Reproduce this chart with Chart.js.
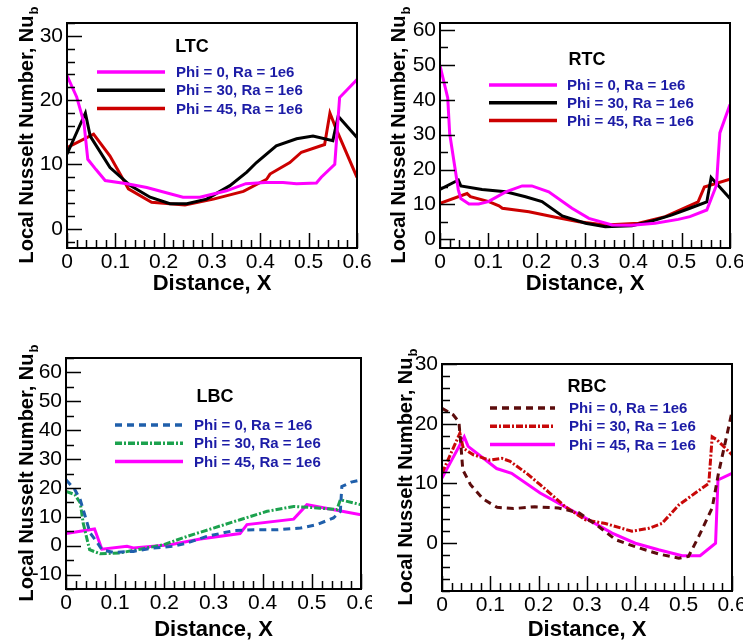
<!DOCTYPE html>
<html>
<head>
<meta charset="utf-8">
<script src="https://cdn.jsdelivr.net/npm/chart.js@4.4.1/dist/chart.umd.min.js"></script>
<style>
  body { margin: 0; background: #fff; }
  .panel { position: absolute; }
</style>
</head>
<body>
<div class="panel" style="left:0;top:0"><canvas id="ltc" width="372" height="320"></canvas></div>
<div class="panel" style="left:372px;top:0"><canvas id="rtc" width="371" height="320"></canvas></div>
<div class="panel" style="left:0;top:320px"><canvas id="lbc" width="372" height="320"></canvas></div>
<div class="panel" style="left:372px;top:320px"><canvas id="rbc" width="371" height="320"></canvas></div>
<script>
// tick labels
const xTickVals = [0, 0.1, 0.2, 0.3, 0.4, 0.5, 0.6];
const ltcYTicks = [0, 10, 20, 30];
const rtcYTicks = [0, 10, 20, 30, 40, 50, 60];
const lbcYTicks = [-10, 0, 10, 20, 30, 40, 50, 60];
const rbcYTicks = [0, 10, 20, 30];

const seriesNames = ['Phi = 0, Ra = 1e6', 'Phi = 30, Ra = 1e6', 'Phi = 45, Ra = 1e6'];

// LTC
const ltcX0 = [0, 0.02, 0.035, 0.043, 0.06, 0.079, 0.124, 0.165, 0.24, 0.275, 0.33, 0.37, 0.41, 0.447, 0.475, 0.516, 0.526, 0.554, 0.564, 0.6];
const ltcY0 = [23.8, 20.5, 16.5, 10.8, 9.2, 7.5, 7.0, 6.4, 4.9, 4.9, 5.9, 7.0, 7.2, 7.2, 7.0, 7.1, 8.0, 10.0, 20.4, 23.2];
const ltcX30 = [0, 0.038, 0.048, 0.089, 0.131, 0.172, 0.213, 0.248, 0.289, 0.337, 0.372, 0.392, 0.433, 0.475, 0.509, 0.55, 0.561, 0.6];
const ltcY30 = [11.6, 18.0, 14.4, 9.5, 6.7, 4.9, 3.9, 3.9, 4.6, 6.7, 8.8, 10.3, 12.9, 14.0, 14.4, 13.7, 17.5, 14.2];
const ltcX45 = [0, 0.055, 0.089, 0.127, 0.175, 0.244, 0.303, 0.365, 0.413, 0.42, 0.461, 0.485, 0.533, 0.544, 0.557, 0.6];
const ltcY45 = [12.6, 14.7, 11.3, 6.2, 4.1, 3.7, 4.6, 5.8, 7.7, 8.5, 10.3, 11.9, 13.1, 18.0, 15.5, 8.0];

// RTC
const rtcX0 = [0, 0.016, 0.02, 0.038, 0.043, 0.06, 0.08, 0.1, 0.136, 0.17, 0.19, 0.225, 0.273, 0.308, 0.356, 0.397, 0.445, 0.493, 0.517, 0.552, 0.572, 0.579, 0.6];
const rtcY0 = [49.8, 40.5, 30.3, 14.1, 11.7, 10.1, 10.1, 10.8, 13.6, 15.3, 15.3, 13.6, 8.9, 6.0, 4.1, 4.0, 4.6, 5.7, 6.5, 8.4, 15.5, 30.5, 38.6];
const rtcX30 = [0, 0.038, 0.043, 0.087, 0.136, 0.177, 0.211, 0.253, 0.301, 0.342, 0.397, 0.445, 0.48, 0.517, 0.552, 0.561, 0.6];
const rtcY30 = [14.3, 17.0, 15.3, 14.3, 13.6, 12.2, 10.8, 6.7, 4.6, 3.6, 3.9, 5.5, 7.0, 8.9, 10.7, 17.7, 11.7];
const rtcX45 = [0, 0.056, 0.063, 0.101, 0.122, 0.129, 0.184, 0.239, 0.287, 0.342, 0.411, 0.466, 0.534, 0.547, 0.6];
const rtcY45 = [10.3, 13.1, 12.2, 10.8, 9.6, 8.9, 7.9, 6.3, 5.0, 4.1, 4.6, 6.5, 10.7, 15.0, 17.2];

// LBC
const lbcX0 = [0, 0.018, 0.029, 0.039, 0.049, 0.062, 0.073, 0.096, 0.137, 0.178, 0.219, 0.246, 0.286, 0.341, 0.382, 0.429, 0.477, 0.51, 0.544, 0.558, 0.561, 0.58, 0.6];
const lbcY0 = [22.8, 19.4, 15.9, 10.2, 4.4, 1.5, -1.4, -2.3, -2.0, -0.8, -0.2, 0.9, 3.2, 5.2, 5.5, 5.5, 6.1, 7.3, 9.6, 11.9, 20.5, 22.0, 22.8];
const lbcX30 = [0, 0.018, 0.029, 0.035, 0.048, 0.069, 0.11, 0.151, 0.198, 0.246, 0.3, 0.354, 0.409, 0.463, 0.517, 0.551, 0.558, 0.6];
const lbcY30 = [18.8, 17.7, 14.8, 7.8, -1.4, -2.8, -2.5, -1.2, 0.3, 3.2, 6.1, 9.0, 11.9, 13.6, 13.0, 12.5, 15.9, 14.2];
const lbcX45 = [0, 0.058, 0.073, 0.124, 0.137, 0.212, 0.273, 0.354, 0.368, 0.463, 0.49, 0.6];
const lbcY45 = [4.2, 5.8, -1.2, -0.2, -0.8, 0.3, 2.3, 4.2, 7.3, 9.2, 14.2, 10.7];

// RBC
const rbcX0 = [0, 0.023, 0.035, 0.039, 0.043, 0.059, 0.085, 0.114, 0.148, 0.192, 0.241, 0.283, 0.324, 0.359, 0.4, 0.448, 0.49, 0.51, 0.531, 0.559, 0.572, 0.6];
const rbcY0 = [22.6, 21.5, 20.3, 16.5, 12.3, 9.8, 7.4, 6.0, 5.8, 6.1, 5.9, 5.1, 2.8, 0.6, -0.6, -1.8, -2.5, -2.2, 1.1, 5.9, 11.7, 22.0];
const rbcX30 = [0, 0.037, 0.044, 0.065, 0.099, 0.124, 0.141, 0.175, 0.203, 0.223, 0.255, 0.297, 0.338, 0.393, 0.428, 0.455, 0.49, 0.524, 0.552, 0.559, 0.569, 0.6];
const rbcY30 = [11.7, 18.4, 15.9, 14.8, 13.9, 14.2, 13.7, 11.7, 9.8, 8.4, 6.1, 3.9, 3.3, 2.0, 2.5, 3.3, 6.4, 8.4, 10.0, 17.8, 17.3, 14.8];
const rbcX45 = [0, 0.046, 0.054, 0.113, 0.144, 0.203, 0.241, 0.297, 0.352, 0.4, 0.448, 0.497, 0.534, 0.566, 0.571, 0.6];
const rbcY45 = [10.9, 17.8, 16.2, 12.5, 11.7, 8.4, 6.7, 4.2, 1.7, 0, -1.1, -2.1, -2.1, 0, 10.6, 11.7];

const FONT = "'Liberation Sans', Arial, sans-serif";
const LEGEND_BLUE = '#1c1ca6';
const Y_TITLE = 'Local Nusselt Number, Nu';
const X_TITLE = 'Distance, X';

function pts(xs, ys) {
  return xs.map((x, i) => ({ x: x, y: ys[i] }));
}

function line(label, xs, ys, color, dash) {
  return {
    label: label,
    data: pts(xs, ys),
    borderColor: color,
    borderWidth: 3,
    borderDash: dash || [],
    pointRadius: 0,
    tension: 0,
    fill: false
  };
}

// frame, inward ticks, legend, tag, axis titles
const decor = {
  id: 'decor',
  afterDraw(chart, args, o) {
    const ctx = chart.ctx, a = chart.chartArea;
    const xs = chart.scales.x, ys = chart.scales.y;
    ctx.save();
    ctx.strokeStyle = '#000';
    ctx.lineWidth = 1.5;
    ctx.beginPath();
    // x ticks every 0.02
    for (let i = 0; i <= 30; i++) {
      const px = Math.round(xs.getPixelForValue(i * 0.02)) + 0.5;
      const len = i % 5 === 0 ? 15 : 8;
      ctx.moveTo(px, a.bottom);
      ctx.lineTo(px, a.bottom - len);
    }
    // y ticks
    const m = o.minor;
    for (let v = Math.ceil(ys.min / m) * m; v <= ys.max + 1e-9; v += m) {
      const py = Math.round(ys.getPixelForValue(v)) + 0.5;
      const len = Math.abs(v % 10) < 1e-9 ? 15 : 8;
      ctx.moveTo(a.left, py);
      ctx.lineTo(a.left + len, py);
    }
    ctx.stroke();
    ctx.lineWidth = 2;
    ctx.strokeRect(a.left, a.top, a.right - a.left, a.bottom - a.top);

    // tag
    ctx.fillStyle = '#000';
    ctx.font = 'bold 18px ' + FONT;
    ctx.textAlign = 'center';
    ctx.textBaseline = 'middle';
    ctx.fillText(o.tag, o.tagX, o.tagY);

    // legend
    ctx.font = 'bold 15px ' + FONT;
    ctx.textAlign = 'left';
    chart.data.datasets.forEach((ds, i) => {
      const y = o.legY + i * o.legStep;
      ctx.save();
      ctx.strokeStyle = ds.borderColor;
      ctx.lineWidth = 3.5;
      ctx.setLineDash(ds.borderDash);
      ctx.beginPath();
      ctx.moveTo(o.legX0, y);
      ctx.lineTo(o.legX1, y);
      ctx.stroke();
      ctx.restore();
      ctx.fillStyle = LEGEND_BLUE;
      ctx.fillText(ds.label, o.legTx, y + 1);
    });

    // x title
    ctx.fillStyle = '#000';
    ctx.font = 'bold 22px ' + FONT;
    ctx.textAlign = 'center';
    ctx.textBaseline = 'alphabetic';
    ctx.fillText(X_TITLE, (a.left + a.right) / 2, o.xTitleY);

    // y title with subscript
    ctx.font = 'bold 20px ' + FONT;
    const w1 = ctx.measureText(Y_TITLE).width;
    ctx.font = 'bold 13px ' + FONT;
    const w2 = ctx.measureText('b').width;
    const cy = (a.top + a.bottom) / 2;
    ctx.translate(o.yTitleX, cy);
    ctx.rotate(-Math.PI / 2);
    ctx.textAlign = 'left';
    ctx.font = 'bold 20px ' + FONT;
    ctx.fillText(Y_TITLE, -(w1 + w2) / 2, 0);
    ctx.font = 'bold 13px ' + FONT;
    ctx.fillText('b', -(w1 + w2) / 2 + w1 + 1, 5);
    ctx.restore();
  }
};

function makeChart(id, datasets, yMin, yMax, yTicks, pad, deco) {
  new Chart(document.getElementById(id), {
    type: 'line',
    data: { datasets: datasets },
    options: {
      responsive: false,
      animation: false,
      devicePixelRatio: 1,
      layout: { padding: pad },
      plugins: { legend: { display: false }, tooltip: { enabled: false }, decor: deco },
      scales: {
        x: {
          type: 'linear',
          min: 0,
          max: 0.6,
          grid: { display: false, drawTicks: false },
          border: { display: false },
          afterBuildTicks: s => { s.ticks = xTickVals.map(v => ({ value: v })); },
          afterFit: s => { s.height = 45; s.paddingLeft = 0; s.paddingRight = 0; },
          ticks: {
            padding: 2,
            color: '#000',
            maxRotation: 0,
            autoSkip: false,
            font: { family: FONT, size: 21 },
            callback: v => String(+(+v).toFixed(1))
          }
        },
        y: {
          type: 'linear',
          min: yMin,
          max: yMax,
          grid: { display: false, drawTicks: false },
          border: { display: false },
          afterBuildTicks: s => { s.ticks = yTicks.map(v => ({ value: v })); },
          afterFit: s => { s.width = 50; s.paddingTop = 0; s.paddingBottom = 0; },
          ticks: {
            padding: 4,
            color: '#000',
            autoSkip: false,
            font: { family: FONT, size: 21 }
          }
        }
      }
    },
    plugins: [decor]
  });
}

makeChart('ltc', [
  line(seriesNames[0], ltcX0, ltcY0, '#ff00ff'),
  line(seriesNames[1], ltcX30, ltcY30, '#000000'),
  line(seriesNames[2], ltcX45, ltcY45, '#cc0000')
], -3, 32, ltcYTicks, { left: 17, right: 15, top: 23, bottom: 27 },
{ tag: 'LTC', tagX: 192, tagY: 47, legX0: 97, legX1: 165, legTx: 176, legY: 72, legStep: 18.3, minor: 2, yTitleX: 33, xTitleY: 290 });

makeChart('rtc', [
  line(seriesNames[0], rtcX0, rtcY0, '#ff00ff'),
  line(seriesNames[1], rtcX30, rtcY30, '#000000'),
  line(seriesNames[2], rtcX45, rtcY45, '#cc0000')
], -2.5, 62, rtcYTicks, { left: 18, right: 13, top: 23, bottom: 27 },
{ tag: 'RTC', tagX: 215, tagY: 60, legX0: 117, legX1: 185, legTx: 195, legY: 85, legStep: 17.8, minor: 5, yTitleX: 33, xTitleY: 290 });

makeChart('lbc', [
  line(seriesNames[0], lbcX0, lbcY0, '#1f5fab', [7, 5]),
  line(seriesNames[1], lbcX30, lbcY30, '#1ca24e', [7, 2, 2, 2]),
  line(seriesNames[2], lbcX45, lbcY45, '#ff00ff')
], -15, 65, lbcYTicks, { left: 16, right: 11, top: 38, bottom: 6 },
{ tag: 'LBC', tagX: 215, tagY: 77, legX0: 115, legX1: 183, legTx: 194, legY: 105, legStep: 18.3, minor: 5, yTitleX: 33, xTitleY: 316 });

makeChart('rbc', [
  line(seriesNames[0], rbcX0, rbcY0, '#5c0c0c', [7, 5]),
  line(seriesNames[1], rbcX30, rbcY30, '#c80808', [7, 2, 2, 2]),
  line(seriesNames[2], rbcX45, rbcY45, '#ff00ff')
], -8, 30, rbcYTicks, { left: 20, right: 11, top: 44, bottom: 4 },
{ tag: 'RBC', tagX: 215, tagY: 67, legX0: 118, legX1: 183, legTx: 197, legY: 88, legStep: 18.3, minor: 2, yTitleX: 40, xTitleY: 316 });
</script>
</body>
</html>
